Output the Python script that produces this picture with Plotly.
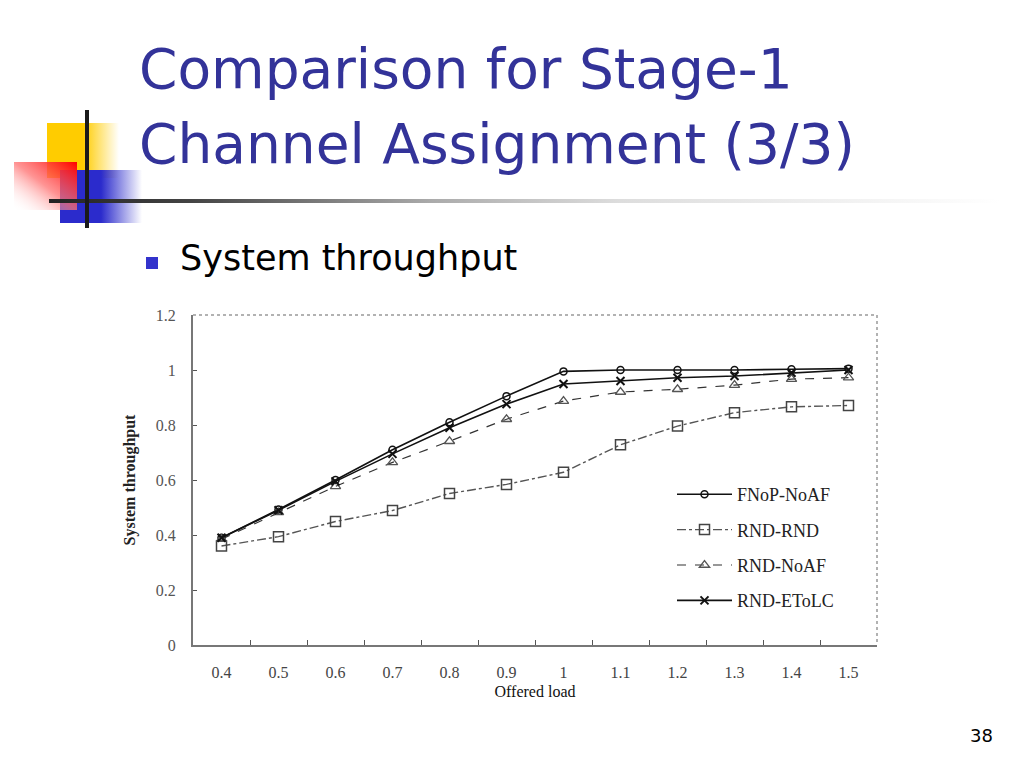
import base64
import plotly.graph_objects as go

# ---------------- data ----------------
offered_load = ["0.4", "0.5", "0.6", "0.7", "0.8", "0.9", "1", "1.1", "1.2", "1.3", "1.4", "1.5"]
fnop_noaf = [0.39, 0.493, 0.600, 0.710, 0.810, 0.905, 0.995, 1.000, 1.000, 1.000, 1.003, 1.005]
rnd_rnd = [0.360, 0.394, 0.449, 0.489, 0.551, 0.584, 0.628, 0.728, 0.796, 0.845, 0.866, 0.871]
rnd_noaf = [0.385, 0.482, 0.577, 0.664, 0.741, 0.821, 0.887, 0.920, 0.930, 0.945, 0.967, 0.972]
rnd_etolc = [0.390, 0.490, 0.595, 0.695, 0.790, 0.876, 0.949, 0.960, 0.972, 0.978, 0.990, 1.000]
y_tick_vals = [0, 0.2, 0.4, 0.6, 0.8, 1.0, 1.2]
y_tick_text = ["0", "0.2", "0.4", "0.6", "0.8", "1", "1.2"]
title_lines = ["Comparison for Stage-1", "Channel Assignment (3/3)"]

W, H = 1024, 768
PL, PR, PT, PB = 193, 877, 315, 645  # plot frame in pixels


def px(x):
    return x / W


def py(y):
    return 1 - y / H


SERIF = "Liberation Serif, Times New Roman, serif"
SANS = "DejaVu Sans, Verdana, sans-serif"

fig = go.Figure()

series = [
    ("FNoP-NoAF", fnop_noaf, dict(color="#111111", width=1.6, dash="solid"),
     dict(symbol="circle-open", size=7, color="#111111", line=dict(width=1.5))),
    ("RND-RND", rnd_rnd, dict(color="#555555", width=1.4, dash="dashdot"),
     dict(symbol="square-open", size=10, color="#444444", line=dict(width=1.5))),
    ("RND-NoAF", rnd_noaf, dict(color="#333333", width=1.2, dash="dash"),
     dict(symbol="triangle-up-open", size=9, color="#555555", line=dict(width=1.3))),
    ("RND-EToLC", rnd_etolc, dict(color="#111111", width=1.6, dash="solid"),
     dict(symbol="x-thin-open", size=8, color="#111111", line=dict(width=2))),
]
for i, (name, vals, line, marker) in enumerate(series):
    fig.add_trace(go.Scatter(
        x=offered_load, y=vals, name=name, mode="lines+markers",
        line=line, marker=marker, legendgroup=f"g{i}",
    ))

# ---------------- decorations (SVG background) ----------------
svg = f"""<svg xmlns='http://www.w3.org/2000/svg' width='{W}' height='{H}' viewBox='0 0 {W} {H}'>
<defs>
<linearGradient id='yg' x1='0' y1='0' x2='1' y2='0'>
<stop offset='0' stop-color='#FFCC00'/><stop offset='0.5' stop-color='#FFCC00'/>
<stop offset='1' stop-color='#FFCC00' stop-opacity='0'/></linearGradient>
<linearGradient id='bg' x1='0' y1='0' x2='1' y2='0'>
<stop offset='0' stop-color='#2B2BCC'/><stop offset='0.5' stop-color='#2B2BCC'/>
<stop offset='1' stop-color='#2B2BCC' stop-opacity='0'/></linearGradient>
<linearGradient id='rg' x1='1' y1='0' x2='0' y2='1'>
<stop offset='0' stop-color='#FF0000'/><stop offset='0.5' stop-color='#FF7070' stop-opacity='0.75'/>
<stop offset='1' stop-color='#FFFFFF' stop-opacity='0'/></linearGradient>
<linearGradient id='lg' x1='0' y1='0' x2='1' y2='0'>
<stop offset='0' stop-color='#222222'/><stop offset='0.15' stop-color='#444444'/>
<stop offset='0.4' stop-color='#AAAAAA'/><stop offset='0.6' stop-color='#DDDDDD'/>
<stop offset='1' stop-color='#FFFFFF'/></linearGradient>
</defs>
<rect x='47' y='123' width='72' height='55' fill='url(#yg)'/>
<rect x='60' y='170' width='82' height='53' fill='url(#bg)'/>
<rect x='14' y='162' width='63' height='48' fill='url(#rg)'/>
<rect x='49' y='199' width='951' height='4' fill='url(#lg)'/>
<rect x='85' y='110' width='4' height='118' fill='#1A1A1A'/>
<rect x='146' y='257' width='12' height='12' fill='#3333CC'/>
</svg>"""
src = "data:image/svg+xml;base64," + base64.b64encode(svg.encode()).decode()

fig.add_layout_image(dict(
    source=src, xref="paper", yref="paper", x=0, y=1, sizex=1, sizey=1,
    xanchor="left", yanchor="top", sizing="stretch", layer="below",
))

# frame top & right (dotted)
for x0, y0, x1, y1 in [(PL, PT, PR, PT), (PR, PT, PR, PB)]:
    fig.add_shape(type="line", xref="paper", yref="paper",
                  x0=px(x0), y0=py(y0), x1=px(x1), y1=py(y1),
                  line=dict(color="#999999", width=1.5, dash="dot"))

# ---------------- texts ----------------
for line_text, top in zip(title_lines, [35, 110]):
    fig.add_annotation(text=line_text, xref="paper", yref="paper",
                       x=px(137), y=py(top), xanchor="left", yanchor="top",
                       align="left", showarrow=False,
                       font=dict(family=SANS, size=55, color="#333399"))
fig.add_annotation(text="System throughput", xref="paper", yref="paper",
                   x=px(178), y=py(258), xanchor="left", yanchor="middle",
                   showarrow=False, font=dict(family=SANS, size=35, color="#000000"))
fig.add_annotation(text="38", xref="paper", yref="paper",
                   x=px(981), y=py(735), xanchor="center", yanchor="middle",
                   showarrow=False, font=dict(family=SANS, size=18, color="#000000"))

fig.update_layout(
    width=W, height=H, margin=dict(l=0, r=0, t=0, b=0),
    paper_bgcolor="white", plot_bgcolor="rgba(0,0,0,0)",
    showlegend=True,
    legend=dict(x=px(672), y=py(476), xanchor="left", yanchor="top",
                bgcolor="rgba(0,0,0,0)", tracegroupgap=9, itemwidth=55,
                font=dict(family=SERIF, size=18, color="#222222")),
    xaxis=dict(domain=[px(PL), px(PR)], type="category", range=[-0.5, 11.5],
               showline=True, linecolor="#777777", linewidth=2,
               ticks="inside", tickson="boundaries", ticklen=5, tickcolor="#555555",
               showgrid=False, zeroline=False, automargin=False,
               tickfont=dict(family=SERIF, size=16, color="#444444"),
               ticklabelstandoff=12,
               title=dict(text="Offered load", standoff=6,
                          font=dict(family=SERIF, size=16, color="#111111"))),
    yaxis=dict(domain=[py(PB), py(PT)], range=[0, 1.2],
               tickvals=y_tick_vals, ticktext=y_tick_text,
               showline=True, linecolor="#777777", linewidth=2,
               ticks="inside", ticklen=4, tickcolor="#555555",
               showgrid=False, zeroline=False, automargin=False,
               tickfont=dict(family=SERIF, size=16, color="#555555"),
               ticklabelstandoff=12,
               title=dict(text="<b>System throughput</b>", standoff=16,
                          font=dict(family=SERIF, size=16, color="#222222"))),
)

fig.write_html("out.html", config={"displayModeBar": False},
               post_script="document.body.style.margin='0';")
